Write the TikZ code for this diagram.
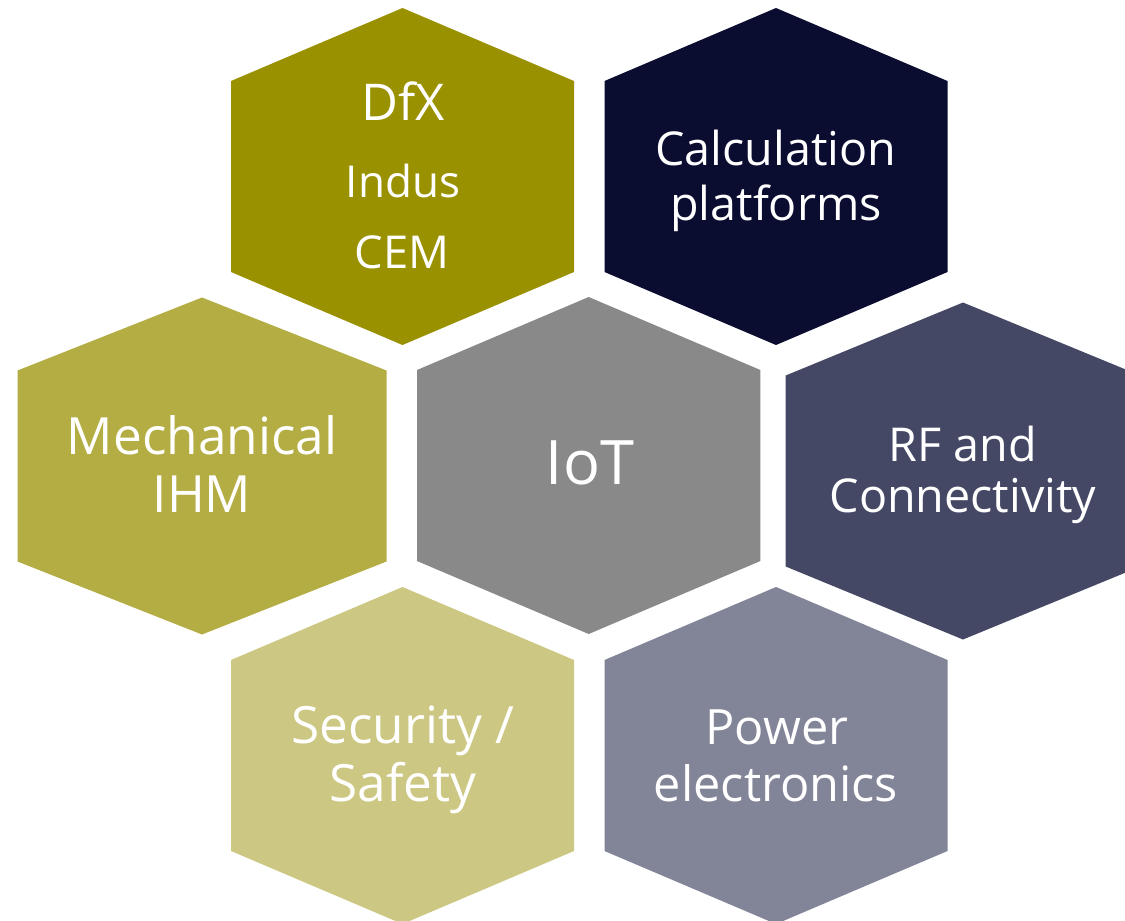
\documentclass[tikz,border=0pt]{standalone}
\usepackage{fontspec}
\setmainfont{Open Sans}
\definecolor{cdfx}{RGB}{153,145,0}
\definecolor{ccalc}{RGB}{10,12,48}
\definecolor{cmech}{RGB}{179,173,67}
\definecolor{ciot}{RGB}{137,137,137}
\definecolor{crf}{RGB}{69,72,101}
\definecolor{csec}{RGB}{204,200,132}
\definecolor{cpow}{RGB}{130,132,152}
\newcommand\hexa[4]{%
  \fill[#4] ({#1},{#2-168.5}) -- ({#1+#3},{#2-95.5}) -- ({#1+#3},{#2+95.5})
    -- ({#1},{#2+168.5}) -- ({#1-#3},{#2+95.5}) -- ({#1-#3},{#2-95.5}) -- cycle;}
\tikzset{
  lbl/.style={text=white, inner sep=0pt, anchor=base, font=\fontsize{34}{40}\selectfont},
  big/.style={lbl, font=\fontsize{46}{54}\selectfont}
}
\begin{document}
\begin{tikzpicture}[x=0.75pt,y=-0.75pt]
\useasboundingbox (0,0) rectangle (1125,921);
\clip (0,0) rectangle (1125,921);
% hexagons
\hexa{402.5}{176.5}{171.5}{cdfx}
\hexa{776}{176.5}{171.5}{ccalc}
\hexa{202}{466}{184.5}{cmech}
\hexa{588.7}{465.5}{171.7}{ciot}
\hexa{963}{471}{177.3}{crf}
\hexa{402.5}{755.5}{171.5}{csec}
\hexa{776}{755.5}{171.5}{cpow}
% labels
\node[lbl, font=\fontsize{38}{44}\selectfont] (dfx1) at (403,120) {DfX};
\node[lbl, font=\fontsize{33}{40}\selectfont] (dfx2) at (403,197) {Indus};
\node[lbl, font=\fontsize{34}{40}\selectfont] (dfx3) at (402,268) {CEM};
\node[lbl, font=\fontsize{35}{40}\selectfont] (calc1) at (776,165) {Calculation};
\node[lbl, font=\fontsize{35}{40}\selectfont] (calc2) at (776,220) {platforms};
\node[lbl, font=\fontsize{38.5}{44}\selectfont] (mech1) at (202,454) {Mechanical};
\node[lbl, font=\fontsize{38.5}{44}\selectfont] (mech2) at (202,512) {IHM};
\node[big] (iot) at (590,484) {IoT};
\node[lbl, font=\fontsize{35}{40}\selectfont] (rf1) at (963,461) {RF and};
\node[lbl, font=\fontsize{35}{40}\selectfont] (rf2) at (963,512) {Connectivity};
\node[lbl, font=\fontsize{38.5}{44}\selectfont] (sec1) at (403,743) {Security /};
\node[lbl, font=\fontsize{38.5}{44}\selectfont] (sec2) at (403,801) {Safety};
\node[lbl, font=\fontsize{36.5}{42}\selectfont] (pow1) at (777,744) {Power};
\node[lbl, font=\fontsize{36.5}{42}\selectfont] (pow2) at (776,801) {electronics};
\end{tikzpicture}
\end{document}
